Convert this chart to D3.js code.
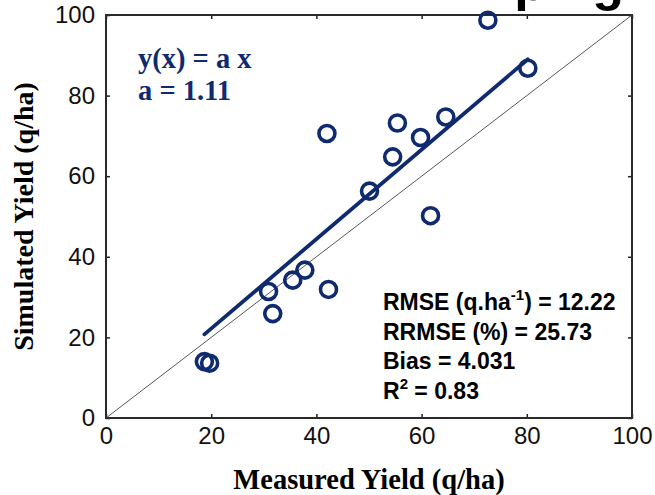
<!DOCTYPE html>
<html>
<head>
<meta charset="utf-8">
<script src="https://cdn.jsdelivr.net/npm/d3@7"></script>
<style>
  body { margin: 0; background: #fff; }
  svg { display: block; }
</style>
</head>
<body>
<svg id="chart" width="655" height="495"></svg>
<script>
// measured vs simulated yield (q/ha)
const measured  = [72.6, 80.2, 42.0, 55.4, 64.6, 59.8, 54.5, 50.1, 61.7, 37.8, 35.5, 30.9, 42.3, 31.7, 18.7, 19.7];
const simulated = [98.7, 86.8, 70.6, 73.2, 74.7, 69.6, 64.8, 56.3, 50.2, 36.7, 34.2, 31.4, 31.9, 25.9, 14.0, 13.6];
const slope = 1.11;
const ticks = [0, 20, 40, 60, 80, 100];
const eqLines = ["y(x) = a x", "a = 1.11"];
const statLines = [
  { pre: "RMSE (q.ha", sup: "-1", post: ") = 12.22" },
  { pre: "RRMSE (%) = 25.73" },
  { pre: "Bias = 4.031" },
  { pre: "R", sup: "2", post: " = 0.83" }
];

const navy = "#0f2a6e";

const margin = { left: 106, right: 23, top: 15, bottom: 77 };
const svgWidth = 655, svgHeight = 495;
const width = svgWidth - margin.left - margin.right;
const height = svgHeight - margin.top - margin.bottom;

const svg = d3.select("#chart");

// title fragment, cut by the top edge (only descenders show)
svg.append("text")
  .attr("x", 624)
  .attr("y", 0)
  .attr("text-anchor", "end")
  .attr("font-family", "Liberation Sans, Arial, sans-serif")
  .attr("font-weight", "bold")
  .attr("font-size", 52)
  .attr("fill", "#000")
  .text("ping");

const g = svg.append("g").attr("transform", `translate(${margin.left},${margin.top})`);

const x = d3.scaleLinear().domain([0, 100]).range([0, width]);
const y = d3.scaleLinear().domain([0, 100]).range([height, 0]);

const axisStyle = sel => sel
  .attr("font-family", "Liberation Sans, Arial, sans-serif")
  .attr("font-size", 24)
  .call(a => a.select(".domain").remove())
  .call(a => a.selectAll(".tick line").attr("stroke", "#222").attr("stroke-width", 1.5))
  .call(a => a.selectAll(".tick text").attr("fill", "#111"));

// bottom axis with inner ticks
g.append("g").attr("transform", `translate(0,${height})`)
  .call(d3.axisBottom(x).tickValues(ticks).tickSize(-4).tickPadding(9))
  .call(axisStyle);
// left axis
g.append("g")
  .call(d3.axisLeft(y).tickValues(ticks).tickSize(-4).tickPadding(11))
  .call(axisStyle);
// top + right ticks (no labels)
g.append("g")
  .call(d3.axisTop(x).tickValues(ticks).tickSize(-4).tickFormat(""))
  .call(axisStyle);
g.append("g").attr("transform", `translate(${width},0)`)
  .call(d3.axisRight(y).tickValues(ticks).tickSize(-4).tickFormat(""))
  .call(axisStyle);

// frame
g.append("rect")
  .attr("width", width).attr("height", height)
  .attr("fill", "none").attr("stroke", "#2a2a2a").attr("stroke-width", 2);

// 1:1 line
g.append("line")
  .attr("x1", x(0)).attr("y1", y(0))
  .attr("x2", x(100)).attr("y2", y(100))
  .attr("stroke", "#444").attr("stroke-width", 0.9);

// fitted line y = a x over measured range
const xr = d3.extent(measured);
g.append("line")
  .attr("x1", x(xr[0])).attr("y1", y(slope * xr[0]))
  .attr("x2", x(xr[1])).attr("y2", y(slope * xr[1]))
  .attr("stroke", navy).attr("stroke-width", 3.8).attr("stroke-linecap", "round");

// points
g.selectAll(".pt")
  .data(measured.map((m, i) => [m, simulated[i]]))
  .join("circle")
  .attr("class", "pt")
  .attr("cx", d => x(d[0]))
  .attr("cy", d => y(d[1]))
  .attr("r", 8)
  .attr("fill", "none")
  .attr("stroke", navy)
  .attr("stroke-width", 3.6);

// equation
g.selectAll(".eq")
  .data(eqLines)
  .join("text")
  .attr("class", "eq")
  .attr("x", 32)
  .attr("y", (d, i) => 53 + i * 32)
  .attr("font-family", "Liberation Serif, Times New Roman, serif")
  .attr("font-weight", "bold")
  .attr("font-size", 28.5)
  .attr("fill", navy)
  .text(d => d);

// stats
const st = g.selectAll(".st")
  .data(statLines)
  .join("text")
  .attr("class", "st")
  .attr("x", 277)
  .attr("y", (d, i) => 295 + i * 29.5)
  .attr("font-family", "Liberation Sans, Arial, sans-serif")
  .attr("font-weight", "bold")
  .attr("font-size", 23)
  .attr("fill", "#000");
st.append("tspan").text(d => d.pre);
st.filter(d => d.sup).append("tspan")
  .attr("font-size", 15).attr("dy", -10).text(d => d.sup);
st.filter(d => d.post).append("tspan")
  .attr("dy", 10).text(d => d.post);

// axis titles
svg.append("text")
  .attr("x", margin.left + width / 2)
  .attr("y", 489)
  .attr("text-anchor", "middle")
  .attr("font-family", "Liberation Serif, Times New Roman, serif")
  .attr("font-weight", "bold")
  .attr("font-size", 28.5)
  .text("Measured Yield (q/ha)");

svg.append("text")
  .attr("transform", `translate(33,${margin.top + height / 2}) rotate(-90)`)
  .attr("text-anchor", "middle")
  .attr("font-family", "Liberation Serif, Times New Roman, serif")
  .attr("font-weight", "bold")
  .attr("font-size", 28)
  .text("Simulated Yield (q/ha)");
</script>
</body>
</html>
